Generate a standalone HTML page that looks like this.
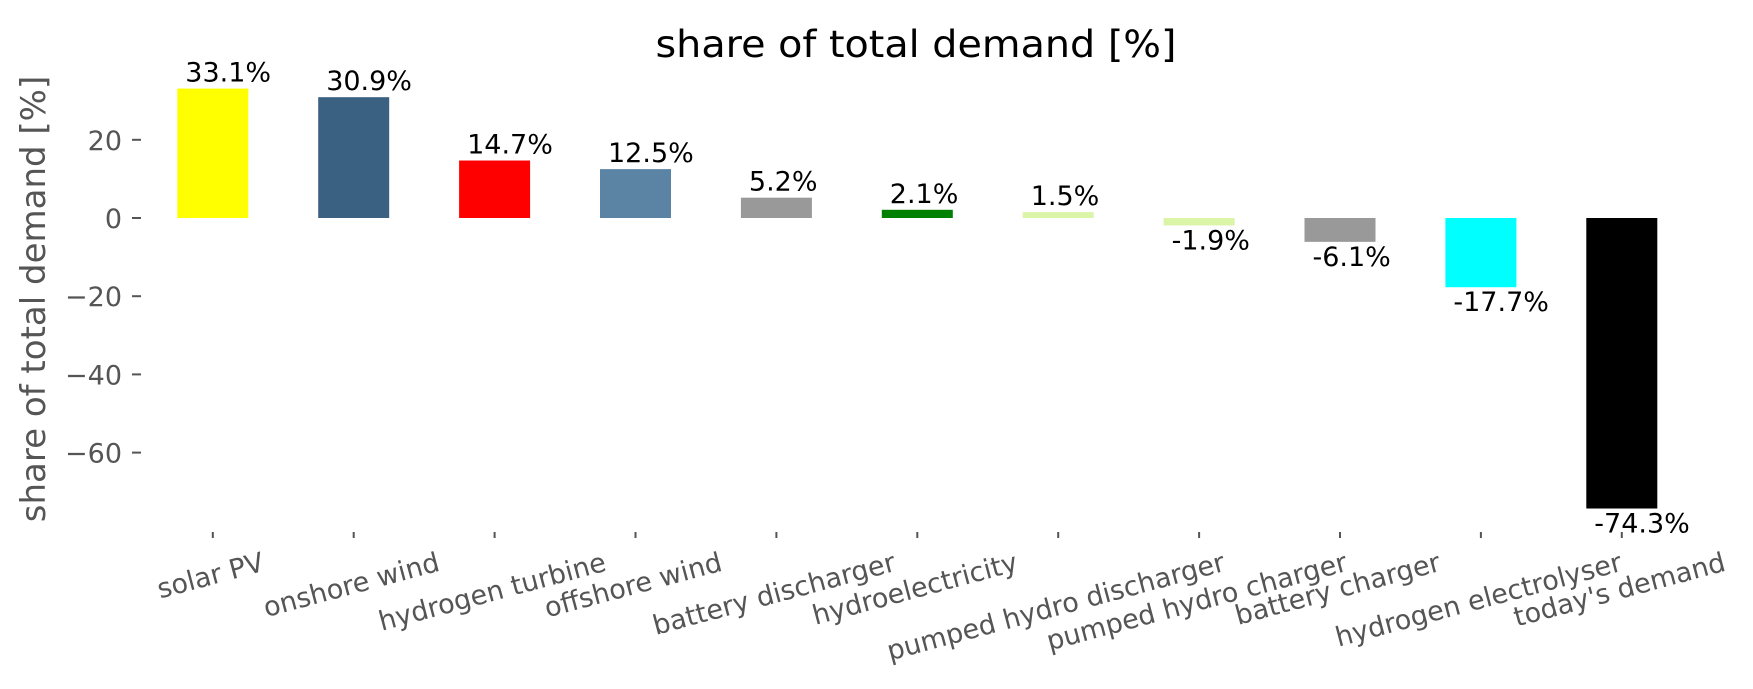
<!DOCTYPE html>
<html><head><meta charset="utf-8"><style>
html,body{margin:0;padding:0;background:#fff;}
svg{display:block;font-family:"DejaVu Sans","Liberation Sans",sans-serif;}
</style></head><body>
<svg id="s" width="1753" height="689" xmlns="http://www.w3.org/2000/svg">
<text x="916" y="57" font-size="37" text-anchor="middle" fill="#000" textLength="521" lengthAdjust="spacingAndGlyphs">share of total demand [%]</text>
<text transform="translate(45,299) rotate(-90)" font-size="34" text-anchor="middle" fill="#555">share of total demand [%]</text>
<g id="g"></g>
</svg>
<script>
var g=document.getElementById('g'),NS='http://www.w3.org/2000/svg';
function el(t,a,txt){var e=document.createElementNS(NS,t);for(var k in a)e.setAttribute(k,a[k]);if(txt!=null)e.textContent=txt;g.appendChild(e);return e;}
var z=218,u=3.91;
[[20,'20'],[0,'0'],[-20,'\u221220'],[-40,'\u221240'],[-60,'\u221260']].forEach(function(t){
 var y=z-t[0]*u;
 el('line',{x1:132,x2:141,y1:y,y2:y,stroke:'#555','stroke-width':2});
 el('text',{x:122,y:y+10,'font-size':27,'text-anchor':'end',fill:'#555'},t[1]);
});
var d=[['solar PV',33.1,'#ffff00'],['onshore wind',30.9,'#3b6182'],['hydrogen turbine',14.7,'#ff0000'],['offshore wind',12.5,'#5b83a3'],['battery discharger',5.2,'#999999'],['hydroelectricity',2.1,'#008000'],['pumped hydro discharger',1.5,'#dbf5a8'],['pumped hydro charger',-1.9,'#dbf5a8'],['battery charger',-6.1,'#999999'],['hydrogen electrolyser',-17.7,'#00ffff'],["today's demand",-74.3,'#000000']];
d.forEach(function(b,i){
 var cx=212.8+i*140.9,h=b[1]*u,left=cx-35.5;
 if(b[1]>=0){el('rect',{x:left,y:z-h,width:71,height:h,fill:b[2]});
  el('text',{x:left+8,y:z-h-7,'font-size':27,fill:'#000'},b[1].toFixed(1)+'%');}
 else{el('rect',{x:left,y:z,width:71,height:-h,fill:b[2]});
  el('text',{x:left+8,y:z-h+24,'font-size':27,fill:'#000'},b[1].toFixed(1)+'%');}
 el('line',{x1:cx,x2:cx,y1:532,y2:538,stroke:'#555','stroke-width':2});
 var t=el('text',{'font-size':27,'text-anchor':'middle',fill:'#555'},b[0]);
 var w=t.getComputedTextLength();
 var s=Math.sin(15*Math.PI/180),c=Math.cos(15*Math.PI/180);
 var by=551+w/2*s+20*c;
 t.setAttribute('transform','translate('+cx+','+by+') rotate(-15)');
});
</script>
</body></html>
